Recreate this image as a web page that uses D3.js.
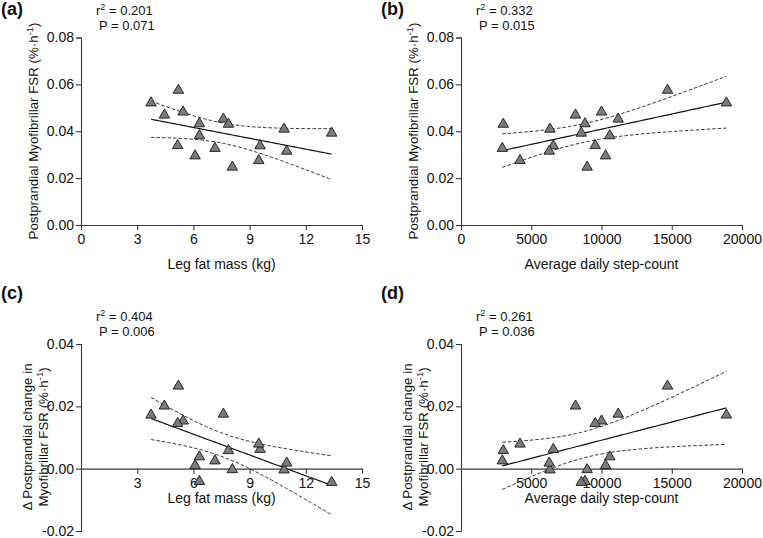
<!DOCTYPE html>
<html><head><meta charset="utf-8">
<script src="https://cdn.jsdelivr.net/npm/d3@7"></script>
<style>body{margin:0;background:#fff} text{font-family:"Liberation Sans",Arial,Helvetica,sans-serif;fill:#111}</style>
</head><body><svg id="chart" width="763" height="538"></svg>
<script>
// ---- data (one entry per participant) ----
const legFat   = [3.74, 5.20, 4.45, 5.45, 6.32, 6.32, 5.16, 6.09, 7.15, 7.60, 7.87, 8.08, 9.56, 9.49, 10.84, 10.98, 13.38];
const steps    = [18890, 14700, 8150, 10000, 8820, 10590, 9550, 10290, 2940, 11190, 3010, 8980, 6570, 4200, 6330, 6280, 8560];
const fsr      = [0.0521, 0.0575, 0.0469, 0.0482, 0.0432, 0.0381, 0.0339, 0.0295, 0.0327, 0.0452, 0.0430, 0.0247, 0.0338, 0.0275, 0.0409, 0.0315, 0.0392];
const deltaFsr = [0.0172, 0.0265, 0.0201, 0.0153, -0.0041, 0.0038, 0.0145, 0.0010, 0.0025, 0.0175, 0.0058, -0.0003, 0.0062, 0.0079, -0.0004, 0.0018, -0.0044];

const panelLabels = ["(a)", "(b)", "(c)", "(d)"];
const r2Labels = ["0.201", "0.332", "0.404", "0.261"];
const pLabels  = ["0.071", "0.015", "0.006", "0.036"];
const legTicksTop = [0, 3, 6, 9, 12, 15];
const legTicksBottom = [3, 6, 9, 12, 15];
const stepTicksTop = [0, 5000, 10000, 15000, 20000];
const stepTicksBottom = [5000, 10000, 15000, 20000];
const fsrTicks = [0, 0.02, 0.04, 0.06, 0.08];
const deltaTicks = [-0.02, 0, 0.02, 0.04];
const xTitles = ["Leg fat mass (kg)", "Average daily step-count", "Leg fat mass (kg)", "Average daily step-count"];

const svg = d3.select("#chart");
const AX = "#3a3a3a";

const panels = [
  {x: legFat, y: fsr,      xd: [0, 15],    yd: [0, 0.08],     ox: 0,   top: true,  xt: legTicksTop,     yt: fsrTicks},
  {x: steps,  y: fsr,      xd: [0, 20000], yd: [0, 0.08],     ox: 380, top: true,  xt: stepTicksTop,    yt: fsrTicks},
  {x: legFat, y: deltaFsr, xd: [0, 15],    yd: [-0.02, 0.04], ox: 0,   top: false, xt: legTicksBottom,  yt: deltaTicks},
  {x: steps,  y: deltaFsr, xd: [0, 20000], yd: [-0.02, 0.04], ox: 380, top: false, xt: stepTicksBottom, yt: deltaTicks}
];

function regression(xs, ys) {
  const n = xs.length;
  const mx = d3.mean(xs), my = d3.mean(ys);
  let sxx = 0, sxy = 0;
  xs.forEach((v, i) => { sxx += (v - mx) ** 2; sxy += (v - mx) * (ys[i] - my); });
  const b = sxy / sxx, a = my - b * mx;
  let sse = 0;
  xs.forEach((v, i) => { sse += (ys[i] - (a + b * v)) ** 2; });
  const s = Math.sqrt(sse / (n - 2));
  const t = 2.131; // t(0.975, 15)
  return {a, b, band: v => t * s * Math.sqrt(1 / n + (v - mx) ** 2 / sxx)};
}

panels.forEach((p, i) => {
  const g = svg.append("g");
  const ox = p.ox;
  const x = d3.scaleLinear().domain(p.xd).range([ox + 81, ox + 362]);
  const y = p.top ? d3.scaleLinear().domain(p.yd).range([225, 37.5])
                  : d3.scaleLinear().domain(p.yd).range([531, 344]);
  const y0 = y(0);

  // y axis
  const ya = g.append("g").attr("transform", `translate(${ox + 81},0)`)
    .call(d3.axisLeft(y).tickValues(p.yt).tickSize(5).tickPadding(2).tickFormat(d => d.toFixed(2)));
  ya.select(".domain").attr("stroke", AX).attr("stroke-width", 1.1);
  ya.selectAll(".tick line").attr("stroke", AX).attr("stroke-width", 1.1);
  ya.selectAll(".tick text").attr("font-size", 14).attr("fill", "#111")
    .style("font-family", '"Liberation Sans",Arial,sans-serif');

  // x axis at y = 0
  const xa = g.append("g").attr("transform", `translate(0,${y0})`)
    .call(d3.axisBottom(x).tickValues(p.xt).tickSize(5).tickPadding(4).tickSizeOuter(0).tickFormat(d3.format("d")));
  xa.select(".domain").attr("stroke", AX).attr("stroke-width", 1.1);
  xa.selectAll(".tick line").attr("stroke", AX).attr("stroke-width", 1.1);
  xa.selectAll(".tick text").attr("font-size", 14).attr("fill", "#111")
    .style("font-family", '"Liberation Sans",Arial,sans-serif');

  // regression + 95% CI
  const r = regression(p.x, p.y);
  const ext = d3.extent(p.x);
  const xs = d3.range(0, 61).map(k => ext[0] + (ext[1] - ext[0]) * k / 60);
  const line = d3.line().x(d => x(d[0])).y(d => y(d[1]));
  g.append("path").attr("d", line(xs.map(v => [v, r.a + r.b * v + r.band(v)])))
    .attr("fill", "none").attr("stroke", "#333").attr("stroke-width", 1).attr("stroke-dasharray", "3.5,2");
  g.append("path").attr("d", line(xs.map(v => [v, r.a + r.b * v - r.band(v)])))
    .attr("fill", "none").attr("stroke", "#333").attr("stroke-width", 1).attr("stroke-dasharray", "3.5,2");
  g.append("path").attr("d", line(xs.map(v => [v, r.a + r.b * v])))
    .attr("fill", "none").attr("stroke", "#111").attr("stroke-width", 1.2);

  // points
  const tri = d3.symbol().type(d3.symbolTriangle).size(48);
  g.selectAll(".pt").data(p.x.map((v, k) => [v, p.y[k]])).join("path")
    .attr("d", tri).attr("transform", d => `translate(${x(d[0])},${y(d[1])})`)
    .attr("fill", "#7b7b7b").attr("stroke", "#1a1a1a").attr("stroke-width", 0.9);

  // panel label
  g.append("text").attr("x", ox + 1).attr("y", p.top ? 15 : 299)
    .attr("font-size", 18).attr("font-weight", "bold").text(panelLabels[i]);

  // stats
  const sy = p.top ? 15 : 321;
  const t1 = g.append("text").attr("x", ox + 96).attr("y", sy).attr("font-size", 13);
  t1.append("tspan").text("r");
  t1.append("tspan").attr("dy", -5).attr("font-size", 9).text("2");
  t1.append("tspan").attr("dy", 5).text(" = " + r2Labels[i]);
  g.append("text").attr("x", ox + 99).attr("y", sy + 15).attr("font-size", 13).text("P = " + pLabels[i]);

  // x title
  g.append("text").attr("x", ox + 221.5).attr("y", p.top ? 269 : 503)
    .attr("text-anchor", "middle").attr("font-size", 14).text(xTitles[i]);

  // y title
  const cy = p.top ? 131 : 437;
  function unitTitle(bx, prefix) {
    const t = g.append("text").attr("transform", `translate(${bx},${cy}) rotate(-90)`)
      .attr("text-anchor", "middle").attr("font-size", 13.3);
    t.append("tspan").text(prefix + " (%·h");
    t.append("tspan").attr("dy", -5).attr("font-size", 9.5).text("-1");
    t.append("tspan").attr("dy", 5).text(")");
  }
  if (p.top) {
    unitTitle(ox + 38, "Postprandial Myofibrillar FSR");
  } else {
    g.append("text").attr("transform", `translate(${ox + 32},${cy}) rotate(-90)`)
      .attr("text-anchor", "middle").attr("font-size", 13.3).text("Δ Postprandial change in");
    unitTitle(ox + 48, "Myofibrillar FSR");
  }
});
</script>
</body></html>
